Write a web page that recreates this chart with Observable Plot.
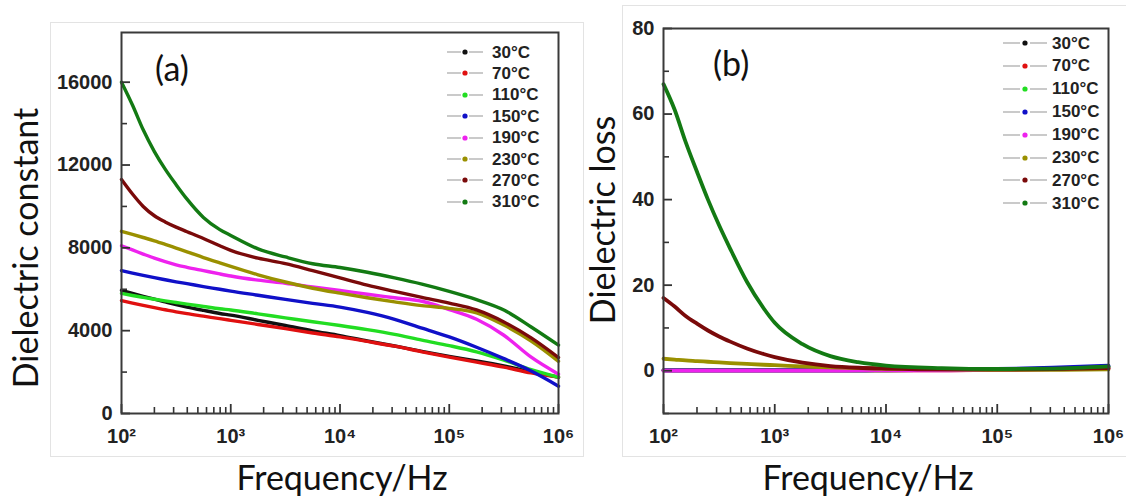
<!DOCTYPE html>
<html><head><meta charset="utf-8">
<script src="https://cdn.jsdelivr.net/npm/d3@7"></script>
<script src="https://cdn.jsdelivr.net/npm/@observablehq/plot@0.6"></script>
<style>
body{margin:0;background:#fff;}
#wrap{position:relative;width:1126px;height:497px;overflow:hidden;background:#fff;}
.box{position:absolute;border:1px solid #e3e3e3;}
.t{position:absolute;font-family:Lato,"Open Sans",sans-serif;font-size:34px;color:#111;white-space:nowrap;line-height:1;}
.leg{position:absolute;font-family:"Liberation Sans",Arial,sans-serif;font-weight:bold;font-size:17px;color:#222;line-height:1;white-space:nowrap;display:flex;align-items:center;}
.leg svg{display:block;}
</style></head><body>
<div id="wrap"></div>
<script>
// ---- data ----
const temps = ["30°C","70°C","110°C","150°C","190°C","230°C","270°C","310°C"];
const colors = ["#111111","#e01010","#22dd22","#1010c8","#ee22ee","#9a9000","#7a0a0a","#137a13"];

// panel (a): dielectric constant vs frequency (Hz)
const freqA = [100,126,158,200,251,316,398,562,794,1000,1778,3162,5623,10000,17783,31623,56234,100000,177828,316228,562341,1000000];
const eps30  = [5950,5800,5660,5520,5390,5260,5140,4980,4830,4750,4500,4250,3990,3760,3500,3260,3000,2760,2540,2300,2020,1750];
const eps70  = [5450,5330,5220,5110,5010,4910,4820,4700,4580,4500,4300,4100,3890,3700,3480,3250,2980,2720,2480,2240,1960,1760];
const eps110 = [5800,5700,5610,5520,5440,5360,5280,5170,5060,5000,4810,4620,4430,4250,4050,3820,3540,3280,2980,2580,2120,1750];
const eps150 = [6900,6780,6670,6560,6460,6360,6270,6130,6000,5910,5710,5510,5320,5140,4880,4550,4120,3700,3200,2650,2050,1320];
const eps190 = [8100,7900,7700,7500,7330,7180,7060,6900,6740,6640,6440,6290,6110,5940,5760,5590,5420,5020,4550,3780,2720,1900];
const eps230 = [8800,8650,8500,8340,8170,7990,7810,7530,7270,7100,6700,6350,6050,5810,5590,5390,5210,5080,4860,4270,3500,2520];
const eps270 = [11300,10600,10000,9550,9250,9000,8780,8450,8100,7880,7500,7240,6900,6550,6200,5900,5610,5330,5000,4420,3650,2700];
const eps310 = [16000,14900,13700,12650,11800,11050,10350,9470,8880,8600,7950,7560,7230,7050,6820,6550,6250,5900,5500,5000,4180,3300];

// panel (b): dielectric loss vs frequency (Hz)
const freqB = [100,126,158,200,251,316,398,562,794,1000,1778,3162,5623,10000,31623,100000,316228,1000000];
const loss30  = [0.1,0.1,0.1,0.1,0.1,0.1,0.1,0.1,0.1,0.1,0.1,0.1,0.1,0.1,0.2,0.3,0.5,0.9];
const loss70  = [0.1,0.1,0.1,0.1,0.1,0.1,0.1,0.1,0.1,0.1,0.1,0.1,0.1,0.1,0.1,0.2,0.4,0.6];
const loss110 = [0.1,0.1,0.1,0.1,0.1,0.1,0.1,0.1,0.1,0.1,0.1,0.1,0.1,0.1,0.2,0.3,0.5,0.8];
const loss150 = [0.1,0.1,0.1,0.1,0.1,0.1,0.1,0.1,0.1,0.1,0.1,0.1,0.1,0.2,0.3,0.4,0.7,1.2];
const loss190 = [0.0,0.0,0.0,0.0,0.0,0.0,0.0,0.0,0.0,0.0,0.0,0.0,0.1,0.1,0.1,0.2,0.3,0.5];
const loss230 = [2.8,2.6,2.4,2.25,2.1,1.95,1.8,1.6,1.4,1.3,1.0,0.8,0.6,0.45,0.3,0.2,0.2,0.3];
const loss270 = [17,15,12.8,11,9.4,8,6.8,5.2,3.9,3.2,1.9,1.1,0.7,0.5,0.3,0.3,0.4,0.6];
const loss310 = [67,61,53.5,46.5,40,34,28.5,20.8,14.6,11.2,6.2,3.4,2.0,1.2,0.6,0.4,0.5,1.0];

// axis ticks
const xDecades = [1e2,1e3,1e4,1e5,1e6];
const xTickLabels = ["10²","10³","10⁴","10⁵","10⁶"];
const xMinor = [200,300,400,500,600,700,800,900,2000,3000,4000,5000,6000,7000,8000,9000,20000,30000,40000,50000,60000,70000,80000,90000,200000,300000,400000,500000,600000,700000,800000,900000];
const yMajorA = [0,4000,8000,12000,16000];
const yMinorA = [2000,6000,10000,14000];
const yMajorB = [0,20,40,60,80];
const yMinorB = [-10,10,30,50,70];

const seriesA = [eps30,eps70,eps110,eps150,eps190,eps230,eps270,eps310];
const seriesB = [loss30,loss70,loss110,loss150,loss190,loss230,loss270,loss310];
const rowsA = seriesA.flatMap((s,k)=>s.map((v,i)=>({f:freqA[i],v,t:temps[k]})));
const rowsB = seriesB.flatMap((s,k)=>s.map((v,i)=>({f:freqB[i],v,t:temps[k]})));

const wrap = document.getElementById("wrap");
function addDiv(cls, css, html){const d=document.createElement("div");d.className=cls;d.style.cssText=css;if(html!==undefined)d.innerHTML=html;wrap.appendChild(d);return d;}

// faint panel boxes
addDiv("box","left:50px;top:22px;width:532px;height:433px;");
addDiv("box","left:622px;top:5px;width:530px;height:450px;");

function panel(opts){
  const {left,width,mL,mR,mT,mB,yDomain,yMajor,yMinor,rows,lw} = opts;
  const H = 497;
  const iw = width-mL-mR, ih = H-mT-mB;
  // inward tick lengths expressed in scale units (pixel length / frame size)
  const ySpan = yDomain[1]-yDomain[0];
  const yLen = px => yDomain[0] + ySpan*px/ih;
  const xLen = px => 1e2*Math.pow(1e4, px/iw);
  const p = Plot.plot({
    width, height:H, marginLeft:mL, marginRight:mR, marginTop:mT, marginBottom:mB,
    x:{type:"log", domain:[1e2,1e6], label:null},
    y:{domain:yDomain, label:null},
    color:{domain:temps, range:colors},
    style:{fontFamily:"'Liberation Sans',Arial,sans-serif", fontSize:"20px", fontWeight:"bold", color:"#222", background:"transparent", overflow:"visible"},
    marks:[
      Plot.line(rows,{x:"f", y:"v", z:"t", stroke:"t", strokeWidth:lw, curve:"monotone-x"}),
      Plot.ruleX(xMinor,{x:d=>d, y1:yDomain[0], y2:yLen(6), stroke:"#333", strokeWidth:1.6}),
      Plot.ruleX(xDecades,{x:d=>d, y1:yDomain[0], y2:yLen(9), stroke:"#333", strokeWidth:1.8}),
      Plot.ruleY(yMinor,{y:d=>d, x1:1e2, x2:xLen(6), stroke:"#333", strokeWidth:1.6}),
      Plot.ruleY(yMajor,{y:d=>d, x1:1e2, x2:xLen(9), stroke:"#333", strokeWidth:1.8}),
      Plot.axisX(xDecades,{tickSize:0, tickPadding:15, tickFormat:(d)=>xTickLabels[xDecades.indexOf(d)], label:null, fill:"#222"}),
      Plot.axisY(yMajor,{tickSize:0, tickPadding:9, tickFormat:d=>String(d), label:null, fill:"#222"}),
      Plot.frame({stroke:"#3a3a3a", strokeWidth:2})
    ]
  });
  p.style.position="absolute"; p.style.left=left+"px"; p.style.top="0px";
  wrap.appendChild(p);
}

panel({left:0, width:590, mL:121, mR:32, mT:32, mB:84, yDomain:[0,18400], yMajor:yMajorA, yMinor:yMinorA, rows:rowsA, lw:3.4});
panel({left:590, width:536, mL:73, mR:18, mT:28, mB:84, yDomain:[-10,80], yMajor:yMajorB, yMinor:yMinorB, rows:rowsB, lw:3.8});

// axis titles
function rotTitle(text,cx,cy){addDiv("t",`left:${cx}px;top:${cy}px;transform:translate(-50%,-50%) rotate(-90deg);`,text);}
function hTitle(text,cx,top){addDiv("t",`left:${cx}px;top:${top}px;transform:translateX(-50%);`,text);}
rotTitle("Dielectric constant",25,248);
rotTitle("Dielectric loss",602,220);
hTitle("Frequency/Hz",342,460);
hTitle("Frequency/Hz",868,460);
addDiv("t","left:155px;top:51px;","(a)");
addDiv("t","left:713px;top:46px;","(b)");

// legends
function legend(x0,y0,dy,segL,gap,textX){
  temps.forEach((t,i)=>{
    const w = segL*2+gap*2;
    const svg = `<svg width="${w}" height="8"><line x1="0" x2="${segL}" y1="4" y2="4" stroke="#b8b8b8" stroke-width="1.5"/><line x1="${segL+2*gap}" x2="${w}" y1="4" y2="4" stroke="#b8b8b8" stroke-width="1.5"/><circle cx="${w/2}" cy="4" r="2.6" fill="${colors[i]}"/></svg>`;
    addDiv("leg",`left:${x0}px;top:${y0+i*dy-8}px;height:16px;`,svg+`<span style="margin-left:${textX-x0-w}px">${t}</span>`);
  });
}
legend(447,52,21.4,14,4,492);
legend(1003,43,22.9,17,5,1052);
</script>
</body></html>
